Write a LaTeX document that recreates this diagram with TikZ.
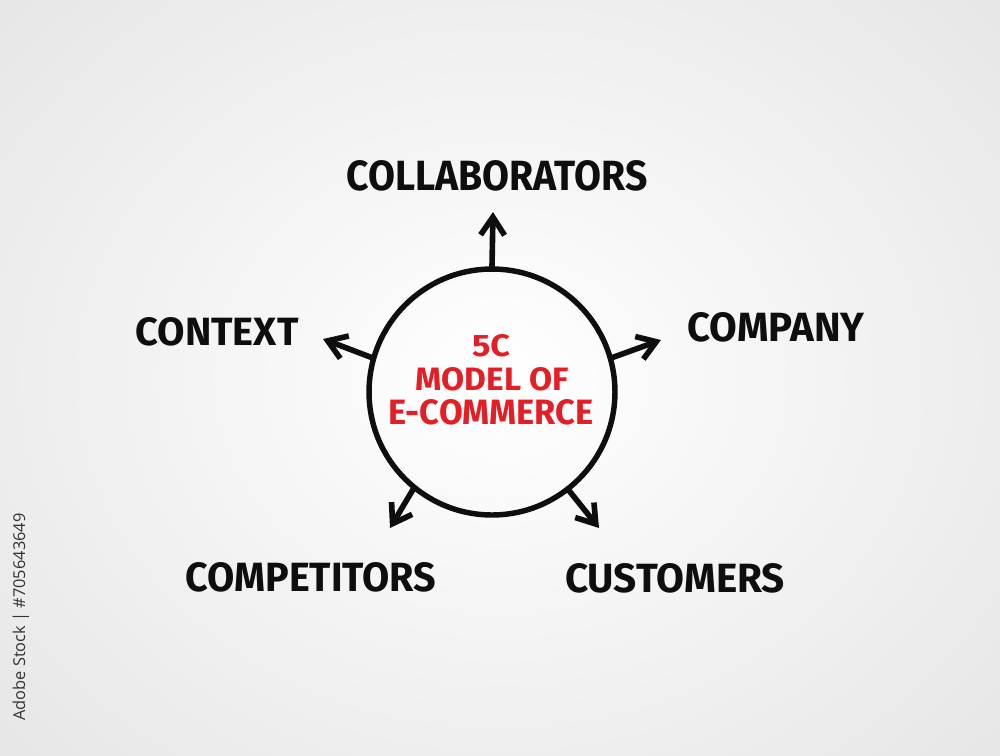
\documentclass[tikz,border=0pt]{standalone}
\usepackage{fontspec}
\setmainfont{Fira Sans}
\newfontfamily\wmfont{Open Sans}
\usetikzlibrary{arrows.meta,shapes.geometric}
\definecolor{mkred}{HTML}{E31E24}
\definecolor{ink}{HTML}{0E0E0E}
\newcommand\fitbox[3]{\resizebox{#1}{#2}{\bfseries #3}}
\tikzset{
  lbl/.style={inner sep=0pt, text=ink},
  redlbl/.style={inner sep=0pt, text=mkred},
  conn/.style={line width=3.2pt, draw=ink, line cap=round, line join=round,
    -{Straight Barb[length=3.6mm,width=4.8mm,line width=3.2pt]}},
}
\begin{document}
\begin{tikzpicture}[x=0.02cm,y=-0.02cm]
\useasboundingbox (0,0) rectangle (1000,755);
\shade[inner color=white, outer color=black!10] (-200,-200) rectangle (1200,955);
% circle
\node[circle, draw=ink, line width=3.1pt, minimum size=4.92cm, inner sep=0pt] (c) at (492,392) {};
% centre text
\node[redlbl] (t1) at (491,346) {\fitbox{0.76cm}{0.44cm}{5C}};
\node[redlbl] (t2) at (492,379) {\fitbox{3.06cm}{0.46cm}{MODEL OF}};
\node[redlbl] (t3) at (491,412) {\fitbox{4.1cm}{0.5cm}{E-COMMERCE}};
% labels
\node[lbl] (colla) at (497,176) {\fitbox{6.02cm}{0.6cm}{COLLABORATORS}};
\node[lbl] (conte) at (217,332) {\fitbox{3.26cm}{0.56cm}{CONTEXT}};
\node[lbl] (compa) at (776,327) {\fitbox{3.54cm}{0.58cm}{COMPANY}};
\node[lbl] (compe) at (311,577) {\fitbox{5.02cm}{0.58cm}{COMPETITORS}};
\node[lbl] (custo) at (675,578) {\fitbox{4.4cm}{0.58cm}{CUSTOMERS}};
% arrow ends
\coordinate (eT) at (493,212);
\coordinate (eL) at (323,339);
\coordinate (eR) at (661,340);
\coordinate (eBL) at (390,528);
\coordinate (eBR) at (599,528);
\draw[conn] (c.90) -- (eT);
\draw[conn] (c.164) -- (eL);
\draw[conn] (c.16) -- (eR);
\draw[conn] (c.231) -- (eBL);
\draw[conn] (c.308) -- (eBR);
% side text
\node[inner sep=0pt, rotate=90, text=black!80] (wm) at (21,617) {\wmfont\fontsize{9.3pt}{11pt}\selectfont Adobe Stock | \#705643649};
\end{tikzpicture}
\end{document}
